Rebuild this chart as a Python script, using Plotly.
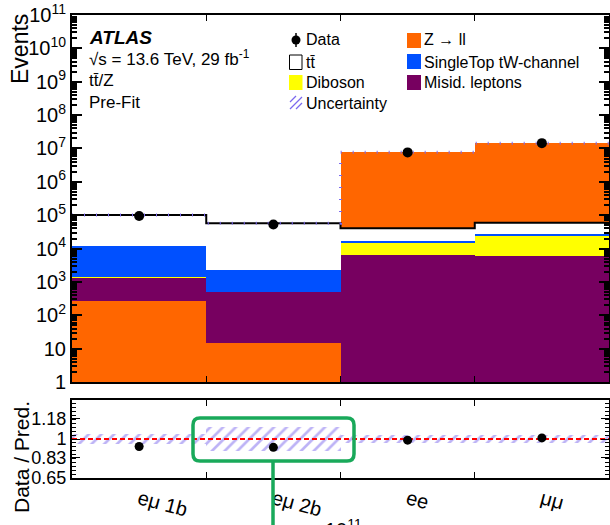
import plotly.graph_objects as go

# ---- event yields per channel ----
channels = ["eμ 1b", "eμ 2b", "ee", "μμ"]
z_ll = [273, 15, 7.66e6, 1.424e7]
misid = [1070, 495, 6.4e3, 5.8e3]
diboson = [90, 6, 8.6e3, 1.8e4]
single_top = [1.03e4, 1.76e3, 2.2e3, 2.9e3]
ttbar = [8.9e4, 5.47e4, 2.33e4, 3.29e4]
data = [9.4e4, 5.27e4, 7.62e6, 1.444e7]
rel_unc = [0.045, 0.11, 0.04, 0.04]
# same-flavour channels have Z -> ll stacked on top
z_on_top = [False, False, True, True]

y_tickvals = [10 ** k for k in range(12)]
y_ticktext = ["1", "10"] + ["10<sup>%d</sup>" % k for k in range(2, 12)]
r_tickvals = [0.65, 0.83, 1.0, 1.18]
r_ticktext = ["0.65", "0.83", "1", "1.18"]

FONT = "Liberation Sans, Arial, sans-serif"
C_Z = "#ff6600"
C_ST = "#0050ff"
C_DIB = "#ffff00"
C_MIS = "#770060"
C_UNC = "#7b68ee"
C_GREEN = "#19a95a"

comps = {
    "Z": (z_ll, C_Z),
    "Misid": (misid, C_MIS),
    "Diboson": (diboson, C_DIB),
    "ST": (single_top, C_ST),
    "tt": (ttbar, "#ffffff"),
}

n = len(channels)
xs = list(range(n))
bases = {k: [0.0] * n for k in comps}
tops = {k: [0.0] * n for k in comps}
total = [0.0] * n
for i in range(n):
    order = (["Misid", "Diboson", "ST", "tt", "Z"] if z_on_top[i]
             else ["Z", "Misid", "Diboson", "ST", "tt"])
    run = 0.0
    for k in order:
        bases[k][i] = run
        run += comps[k][0][i]
        tops[k][i] = run
    total[i] = run

fig = go.Figure()

for k, (vals, col) in comps.items():
    fig.add_trace(go.Bar(
        x=xs, y=vals, base=[max(b, 1e-3) for b in bases[k]], width=1.0,
        marker=dict(color=col, line=dict(width=0)),
        xaxis="x", yaxis="y", showlegend=False, hoverinfo="skip"))

edges = [-0.5, 0.5, 1.5, 2.5, 3.5]
# ttbar outline (step at top of the ttbar contribution)
fig.add_trace(go.Scatter(
    x=edges, y=tops["tt"] + [tops["tt"][-1]], mode="lines",
    line=dict(color="black", width=2, shape="hv"),
    xaxis="x", yaxis="y", showlegend=False, hoverinfo="skip"))
# total prediction uncertainty (thin on log scale)
fig.add_trace(go.Scatter(
    x=edges, y=total + [total[-1]], mode="lines",
    line=dict(color=C_UNC, width=3, shape="hv", dash="1px,11px"),
    xaxis="x", yaxis="y", showlegend=False, hoverinfo="skip"))
# data
fig.add_trace(go.Scatter(
    x=xs, y=data, mode="markers",
    marker=dict(color="black", size=10),
    error_y=dict(type="data", array=[d ** 0.5 for d in data], color="black",
                 thickness=1.5, width=0),
    xaxis="x", yaxis="y", showlegend=False, hoverinfo="skip"))

# ---- ratio panel ----
fig.add_trace(go.Bar(
    x=xs, y=[2 * u for u in rel_unc], base=[1 - u for u in rel_unc], width=1.0,
    marker=dict(color="rgba(0,0,0,0)", line=dict(width=0),
                pattern=dict(shape="/", fgcolor=C_UNC, bgcolor="rgba(0,0,0,0)",
                             size=9, solidity=0.3)),
    xaxis="x2", yaxis="y2", showlegend=False, hoverinfo="skip"))
fig.add_trace(go.Scatter(
    x=[-0.5, 3.5], y=[1, 1], mode="lines",
    line=dict(color="#ff0000", width=2, dash="5px,3px"),
    xaxis="x2", yaxis="y2", showlegend=False, hoverinfo="skip"))
ratio = [d / t for d, t in zip(data, total)]
fig.add_trace(go.Scatter(
    x=xs, y=ratio, mode="markers",
    marker=dict(color="black", size=9),
    error_y=dict(type="data", array=[r / d ** 0.5 for r, d in zip(ratio, data)],
                 color="black", thickness=1.5, width=0),
    xaxis="x2", yaxis="y2", showlegend=False, hoverinfo="skip"))

# ---- geometry helpers (pixel -> paper) ----
ML, MR, MT, MB = 72, 1, 15, 47
W, H = 610 - ML - MR, 525 - MT - MB


def px(x):
    return (x - ML) / W


def py(y):
    return (525 - MB - y) / H


main_dom = [py(382), 1.0]
ratio_dom = [0.0, py(400)]

axis_common = dict(showline=True, linecolor="black", linewidth=2, mirror="ticks",
                   showgrid=False, zeroline=False, tickcolor="black")

fig.update_layout(
    width=610, height=525,
    margin=dict(l=ML, r=MR, t=MT, b=MB, autoexpand=False),
    paper_bgcolor="white", plot_bgcolor="white",
    barmode="overlay", bargap=0,
    font=dict(family=FONT, color="black"),
    xaxis=dict(domain=[0, 1], anchor="y", range=[-0.5, 3.5],
               tickvals=[0.5, 1.5, 2.5], ticks="inside", ticklen=6,
               showticklabels=False, **axis_common),
    yaxis=dict(domain=main_dom, anchor="x", type="log", range=[0, 11],
               tickvals=y_tickvals, ticktext=y_ticktext, ticks="inside",
               ticklen=10, tickwidth=1.5, tickfont=dict(size=20),
               minor=dict(tickvals=[m * 10 ** d for d in range(11) for m in range(2, 10)],
                          ticks="inside", ticklen=5, tickcolor="black"),
               **axis_common),
    xaxis2=dict(domain=[0, 1], anchor="y2", range=[-0.5, 3.5],
                tickvals=xs, ticktext=channels, ticks="inside", ticklen=0,
                tickangle=15, tickfont=dict(size=20),
                minor=dict(tickvals=[0.5, 1.5, 2.5], ticks="inside", ticklen=6,
                           tickcolor="black"),
                **axis_common),
    yaxis2=dict(domain=ratio_dom, anchor="x2", range=[0.65, 1.35],
                tickvals=r_tickvals, ticktext=r_ticktext, ticks="inside",
                ticklen=8, tickfont=dict(size=18),
                minor=dict(tick0=0.65, dtick=0.035, ticks="inside", ticklen=4,
                           tickcolor="black"),
                **axis_common),
)

ann = []


def text(x, y, s, size, **kw):
    d = dict(xref="paper", yref="paper", x=px(x), y=py(y), text=s,
             showarrow=False, xanchor="left", yanchor="middle",
             font=dict(size=size, family=FONT, color="black"))
    d.update(kw)
    ann.append(d)


text(20, 49, "Events", 23, xanchor="center", textangle=-90)
text(21, 457, "Data / Pred.", 21, xanchor="center", textangle=-90)
text(87, 38, "<b><i>ATLAS</i></b>", 19)
text(87, 58, "√s = 13.6 TeV, 29 fb<sup>-1</sup>", 17)
text(87, 80, "tt\u0304/Z", 17)
text(87, 102, "Pre-Fit", 17)

text(304, 40, "Data", 16)
text(304, 62, "tt\u0304", 16)
text(304, 83, "Diboson", 16)
text(304, 103, "Uncertainty", 16)
text(422, 40, "Z → ll", 16)
text(422, 62, "SingleTop tW-channel", 16)
text(422, 83, "Misid. leptons", 16)
text(323, 528, "10<sup>11</sup>", 20)

shapes = []


def rect(x0, y0, x1, y1, fill, line_col=None, lw=0):
    shapes.append(dict(type="rect", xref="paper", yref="paper",
                       x0=px(x0), x1=px(x1), y0=py(y1), y1=py(y0),
                       fillcolor=fill, line=dict(color=line_col or fill, width=lw)))


def seg(x0, y0, x1, y1, col, lw):
    shapes.append(dict(type="line", xref="paper", yref="paper",
                       x0=px(x0), x1=px(x1), y0=py(y0), y1=py(y1),
                       line=dict(color=col, width=lw)))


# legend symbols
seg(296, 33, 296, 47, "black", 1.5)
shapes.append(dict(type="circle", xref="paper", yref="paper",
                   x0=px(291.5), x1=px(300.5), y0=py(44.5), y1=py(35.5),
                   fillcolor="black", line=dict(color="black", width=0)))
rect(289.5, 55, 302, 69.5, "white", "black", 1)
rect(289, 75, 302.5, 90, C_DIB)
seg(290, 102, 296, 96, C_UNC, 1.2)
seg(290, 109, 302, 97, C_UNC, 1.2)
seg(296, 109, 302, 103, C_UNC, 1.2)
rect(407, 33, 421, 48, C_Z)
rect(407, 54, 421, 69, C_ST)
rect(407, 75, 421, 90, C_MIS)

# highlight box around the eμ 2b ratio bin
x0, x1, y0, y1, r = 193, 354, 418, 461, 7
path = ("M {a},{b} L {c},{b} Q {d},{b} {d},{e} L {d},{f} Q {d},{g} {c},{g} "
        "L {a},{g} Q {h},{g} {h},{f} L {h},{e} Q {h},{b} {a},{b} Z").format(
    a=px(x0 + r), c=px(x1 - r), d=px(x1), h=px(x0),
    b=py(y0), e=py(y0 + r), f=py(y1 - r), g=py(y1))
shapes.append(dict(type="path", xref="paper", yref="paper", path=path,
                   line=dict(color=C_GREEN, width=3.5)))
seg(273, 461, 273, 530, C_GREEN, 3.5)

fig.update_layout(annotations=ann, shapes=shapes)
fig.write_html("out.html")
